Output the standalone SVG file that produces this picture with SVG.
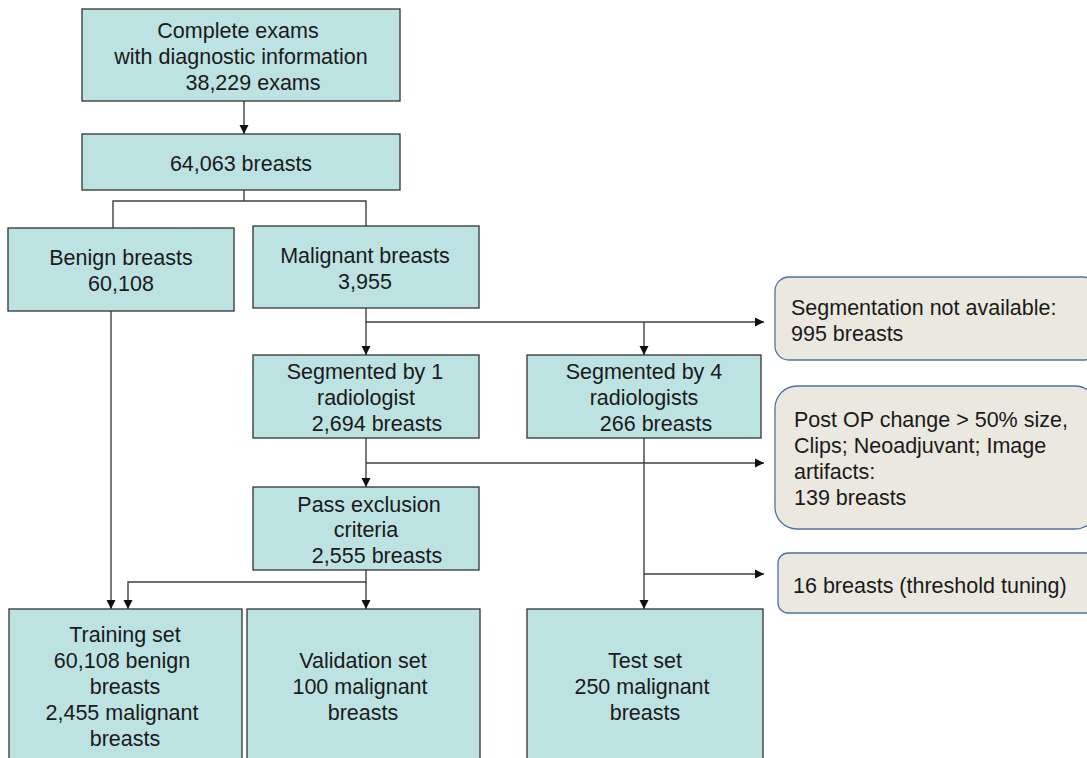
<svg xmlns="http://www.w3.org/2000/svg" width="1087" height="758" viewBox="0 0 1087 758">
  <style>
    .box { fill: #bce3e2; stroke: #333333; stroke-width: 1.3; }
    .note { fill: #ebe8df; stroke: #4f72a6; stroke-width: 1.3; }
    text { font-family: "Liberation Sans", Arial, sans-serif; font-size: 21.5px; fill: #1a1a1a; }
    .c { text-anchor: middle; }
    .conn { fill: none; stroke: #404040; stroke-width: 1.4; }
  </style>
  <defs>
    <marker id="arr" markerWidth="10" markerHeight="10" refX="9" refY="5" orient="auto" markerUnits="userSpaceOnUse">
      <path d="M0,0.5 L9,5 L0,9.5 Z" fill="#111111"/>
    </marker>
  </defs>
  <rect width="1087" height="758" fill="#ffffff"/>

  <g id="connectors">
    <path class="conn" d="M244,101 V134" marker-end="url(#arr)"/>
    <path class="conn" d="M244,190 V201 M113,228 V201 H366 V226"/>
    <path class="conn" d="M111,311 V609" marker-end="url(#arr)"/>
    <path class="conn" d="M366,308 V355" marker-end="url(#arr)"/>
    <path class="conn" d="M366,322 H764" marker-end="url(#arr)"/>
    <path class="conn" d="M644,322 V355" marker-end="url(#arr)"/>
    <path class="conn" d="M366,438 V487" marker-end="url(#arr)"/>
    <path class="conn" d="M366,463 H764" marker-end="url(#arr)"/>
    <path class="conn" d="M644,438 V609" marker-end="url(#arr)"/>
    <path class="conn" d="M644,574 H764" marker-end="url(#arr)"/>
    <path class="conn" d="M366,570 V609" marker-end="url(#arr)"/>
    <path class="conn" d="M366,582 H128 V609" marker-end="url(#arr)"/>
  </g>

  <g id="complete-exams">
    <rect class="box" x="82" y="9" width="318" height="92"/>
    <text class="c" x="238" y="38">Complete exams</text>
    <text class="c" x="241" y="64">with diagnostic information</text>
    <text class="c" x="253" y="90">38,229 exams</text>
  </g>

  <g id="breasts-total">
    <rect class="box" x="82" y="134" width="318" height="56"/>
    <text class="c" x="241" y="171">64,063 breasts</text>
  </g>

  <g id="benign">
    <rect class="box" x="8" y="228" width="226" height="83"/>
    <text class="c" x="121" y="265">Benign breasts</text>
    <text class="c" x="121" y="291">60,108</text>
  </g>

  <g id="malignant">
    <rect class="box" x="253" y="226" width="226" height="82"/>
    <text class="c" x="365" y="263">Malignant breasts</text>
    <text class="c" x="365" y="289">3,955</text>
  </g>

  <g id="seg-not-available">
    <rect class="note" x="775" y="277" width="322" height="83" rx="14" ry="14"/>
    <text x="791" y="315">Segmentation not available:</text>
    <text x="791" y="341">995 breasts</text>
  </g>

  <g id="seg-by-1">
    <rect class="box" x="253" y="355" width="226" height="83"/>
    <text class="c" x="365" y="379">Segmented by 1</text>
    <text class="c" x="366" y="405">radiologist</text>
    <text class="c" x="377" y="431">2,694 breasts</text>
  </g>

  <g id="seg-by-4">
    <rect class="box" x="527" y="355" width="234" height="83"/>
    <text class="c" x="644" y="379">Segmented by 4</text>
    <text class="c" x="644" y="405">radiologists</text>
    <text class="c" x="656" y="431">266 breasts</text>
  </g>

  <g id="exclusions">
    <rect class="note" x="775" y="386" width="322" height="143" rx="22" ry="22"/>
    <text x="794" y="427">Post OP change &gt; 50% size,</text>
    <text x="794" y="453">Clips; Neoadjuvant; Image</text>
    <text x="794" y="479">artifacts:</text>
    <text x="794" y="505">139 breasts</text>
  </g>

  <g id="pass-exclusion">
    <rect class="box" x="253" y="487" width="226" height="83"/>
    <text class="c" x="369" y="512">Pass exclusion</text>
    <text class="c" x="366" y="537">criteria</text>
    <text class="c" x="377" y="563">2,555 breasts</text>
  </g>

  <g id="threshold-tuning">
    <rect class="note" x="778" y="553" width="319" height="60" rx="10" ry="10"/>
    <text x="793" y="593">16 breasts (threshold tuning)</text>
  </g>

  <g id="training-set">
    <rect class="box" x="9" y="609" width="233" height="160"/>
    <text class="c" x="125" y="642">Training set</text>
    <text class="c" x="122" y="668">60,108 benign</text>
    <text class="c" x="125" y="694">breasts</text>
    <text class="c" x="122" y="720">2,455 malignant</text>
    <text class="c" x="125" y="746">breasts</text>
  </g>

  <g id="validation-set">
    <rect class="box" x="247" y="609" width="233" height="160"/>
    <text class="c" x="363" y="668">Validation set</text>
    <text class="c" x="360" y="694">100 malignant</text>
    <text class="c" x="363" y="720">breasts</text>
  </g>

  <g id="test-set">
    <rect class="box" x="527" y="609" width="236" height="160"/>
    <text class="c" x="645" y="668">Test set</text>
    <text class="c" x="642" y="694">250 malignant</text>
    <text class="c" x="645" y="720">breasts</text>
  </g>
</svg>
